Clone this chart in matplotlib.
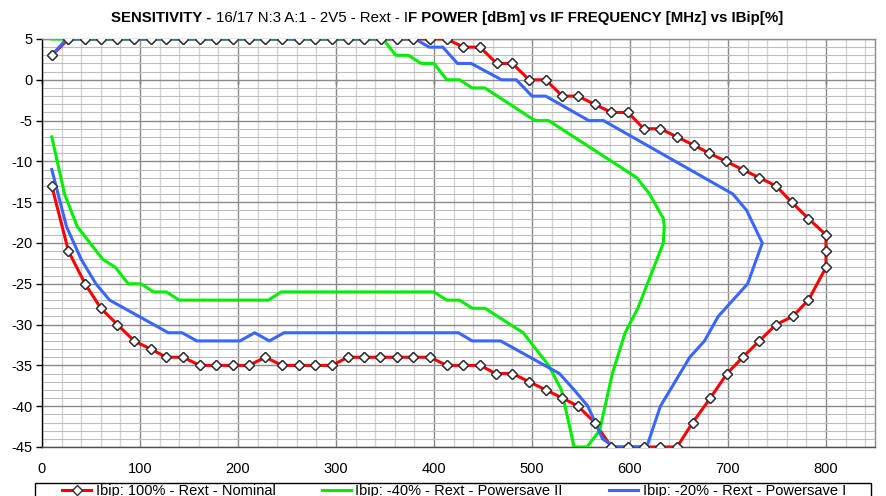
import matplotlib
matplotlib.use("Agg")
import matplotlib.pyplot as plt
from matplotlib.ticker import MultipleLocator
from matplotlib.patches import Rectangle

plt.rcParams['font.family'] = ['Liberation Sans', 'DejaVu Sans']

# ---------------- data (IF frequency [MHz], IF power [dBm]) ----------------
# Nominal (Ibip 100%): upper branch left->right, turn at 800 MHz, lower branch right->left
nominal_freq = [10, 27, 44, 60, 77, 94, 111, 127, 144, 161, 178, 195, 211, 228, 245, 262,
                279, 296, 312, 329, 346, 362, 379, 396, 413, 430, 447, 464, 480, 497, 514, 531,
                547, 564, 581, 598, 614, 631, 648, 665, 681, 698, 715, 732, 749, 765, 782, 800,
                800,
                800, 782, 766, 749, 732, 715, 699, 682, 664, 648, 631, 614, 598, 581, 564, 547,
                531, 514, 497, 480, 463, 447, 430, 413, 396, 379, 362, 345, 329, 312, 296, 279,
                262, 245, 228, 211, 195, 178, 161, 144, 127, 111, 94, 77, 60, 44, 27, 10]
nominal_power = [3, 5, 5, 5, 5, 5, 5, 5, 5, 5, 5, 5, 5, 5, 5, 5,
                 5, 5, 5, 5, 5, 5, 5, 5, 5, 4, 4, 2, 2, 0, 0, -2,
                 -2, -3, -4, -4, -6, -6, -7, -8, -9, -10, -11, -12, -13, -15, -17, -19,
                 -21,
                 -23, -27, -29, -30, -32, -34, -36, -39, -42, -45, -45, -45, -45, -45, -42, -40,
                 -39, -38, -37, -36, -36, -35, -35, -35, -34, -34, -34, -34, -34, -34, -35, -35,
                 -35, -35, -34, -35, -35, -35, -35, -34, -34, -33, -32, -30, -28, -25, -21, -13]

# Powersave II (Ibip -40%)
ps2_freq = [10, 348, 361, 374, 387, 400, 413, 426, 439, 452, 503, 517, 607, 620, 634, 635,
            634, 621, 608, 595, 582, 569, 556, 543, 530, 517, 504, 491, 452, 439, 426, 413,
            400, 244, 231, 140, 127, 114, 101, 88, 75, 62, 49, 36, 23, 10]
ps2_power = [5, 5, 3, 3, 2, 2, 0, 0, -1, -1, -5, -5, -12, -14, -17, -18,
             -20, -24, -28, -31, -36, -43, -45, -45, -38, -35, -33, -31, -28, -28, -27, -27,
             -26, -26, -27, -27, -26, -26, -25, -25, -23, -22, -20, -18, -14, -7]

# Powersave I (Ibip -20%)
ps1_freq = [10, 25, 381, 395, 409, 424, 438, 469, 484, 500, 514, 558, 573, 705, 719, 735,
            720, 705, 690, 676, 661, 646, 631, 617, 584, 572, 557, 543, 528, 468, 439, 425,
            247, 232, 217, 202, 158, 143, 129, 69, 55, 40, 25, 10]
ps1_power = [3, 5, 5, 4, 4, 2, 2, 0, 0, -2, -2, -5, -5, -14, -16, -20,
             -25, -27, -29, -32, -34, -37, -40, -45, -45, -44, -40, -38, -36, -32, -32, -31,
             -31, -32, -31, -32, -32, -31, -31, -27, -25, -22, -18, -11]

labels = ["Ibip: 100% - Rext - Nominal",
          "Ibip: -40% - Rext - Powersave II",
          "Ibip: -20% - Rext - Powersave I"]

x_ticks = [0, 100, 200, 300, 400, 500, 600, 700, 800]
y_ticks = [5, 0, -5, -10, -15, -20, -25, -30, -35, -40, -45]

# ---------------- figure ----------------
W, H = 886, 496
fig = plt.figure(figsize=(W / 100, H / 100), dpi=100)
ax = fig.add_axes([42 / W, 1 - 447 / H, (875 - 42) / W, (447 - 39) / H])
ax.set_xlim(0, 850)
ax.set_ylim(-45, 5)

ax.xaxis.set_major_locator(MultipleLocator(100))
ax.xaxis.set_minor_locator(MultipleLocator(20))
ax.yaxis.set_major_locator(MultipleLocator(5))
ax.yaxis.set_minor_locator(MultipleLocator(1))
ax.set_xticks(x_ticks)
ax.set_xticklabels([str(v) for v in x_ticks])
ax.set_yticks(y_ticks)
ax.set_yticklabels([str(v) for v in y_ticks])

ax.grid(which='minor', axis='x', color='#d4d4d4', lw=1.0)
ax.grid(which='minor', axis='y', color='#bdbdbd', lw=0.8)
ax.grid(which='major', axis='both', color='#8a8a8a', lw=1.0)
ax.set_axisbelow(True)

ax.tick_params(axis='x', which='both', length=0, pad=11, labelsize=10.5)
ax.tick_params(axis='y', which='major', length=4, width=1, pad=3, labelsize=10.5, direction='out')
ax.tick_params(axis='y', which='minor', length=0)

for s in ('top', 'right'):
    ax.spines[s].set_color('#8a8a8a')
ax.spines['bottom'].set_color('#505050')
ax.spines['left'].set_color('black')
for s in ax.spines.values():
    s.set_linewidth(1.0)

# x axis line crossing at 0 dBm with tick marks
sec = ax.secondary_xaxis(45 / 50)
sec.set_xticks(x_ticks)
sec.tick_params(axis='x', direction='out', length=3, width=1, labelbottom=False,
                labeltop=False, bottom=True, top=False)
sec.spines['bottom'].set_color('black')
sec.spines['bottom'].set_linewidth(1.2)
sec.spines['top'].set_visible(False)

# series
red = '#ff0000'
green = '#00ee00'
blue = '#3a66ff'
l1, = ax.plot(nominal_freq, nominal_power, color=red, lw=2.2, marker='D', ms=5,
              mfc='white', mec='#303030', mew=1.0, zorder=3, label=labels[0])
l2, = ax.plot(ps2_freq, ps2_power, color=green, lw=2.2, zorder=3, label=labels[1])
l3, = ax.plot(ps1_freq, ps1_power, color=blue, lw=2.2, zorder=3, label=labels[2])
ax.plot(nominal_freq, nominal_power, ls='none', marker='D', ms=5,
        mfc='white', mec='#303030', mew=1.0, zorder=4)

# legend
fig.patches.append(Rectangle((35 / W, -0.05), (871 - 35) / W, 0.05 + 1 - 483 / H,
                             transform=fig.transFigure, fill=False, ec='black', lw=1.0))
leg = fig.legend(handles=[l1, l2, l3], labels=labels, loc='upper left',
                 bbox_to_anchor=(60 / W, 1 - 482 / H, (848 - 60) / W, 0.001),
                 bbox_transform=fig.transFigure, ncol=3, mode='expand', frameon=False,
                 borderaxespad=0, borderpad=0.15, handlelength=2.0, handletextpad=0.3,
                 fontsize=10.5)

# title with mixed weights
parts = [("SENSITIVITY - ", 'bold'), ("16/17 N:3 A:1 - 2V5 - Rext - I", 'normal'),
         ("F POWER [dBm] vs IF FREQUENCY [MHz] vs IBip[%]", 'bold')]
texts = [fig.text(0, 1 - 18 / H, p, fontsize=10.8, fontweight=w, va='center', ha='left')
         for p, w in parts]
fig.canvas.draw()
r = fig.canvas.get_renderer()
widths = [t.get_window_extent(r).width for t in texts]
total = sum(widths)
x0 = (447 - total / 2)
for t, w in zip(texts, widths):
    t.set_x(x0 / W)
    x0 += w

fig.savefig("out.png", dpi=100)
